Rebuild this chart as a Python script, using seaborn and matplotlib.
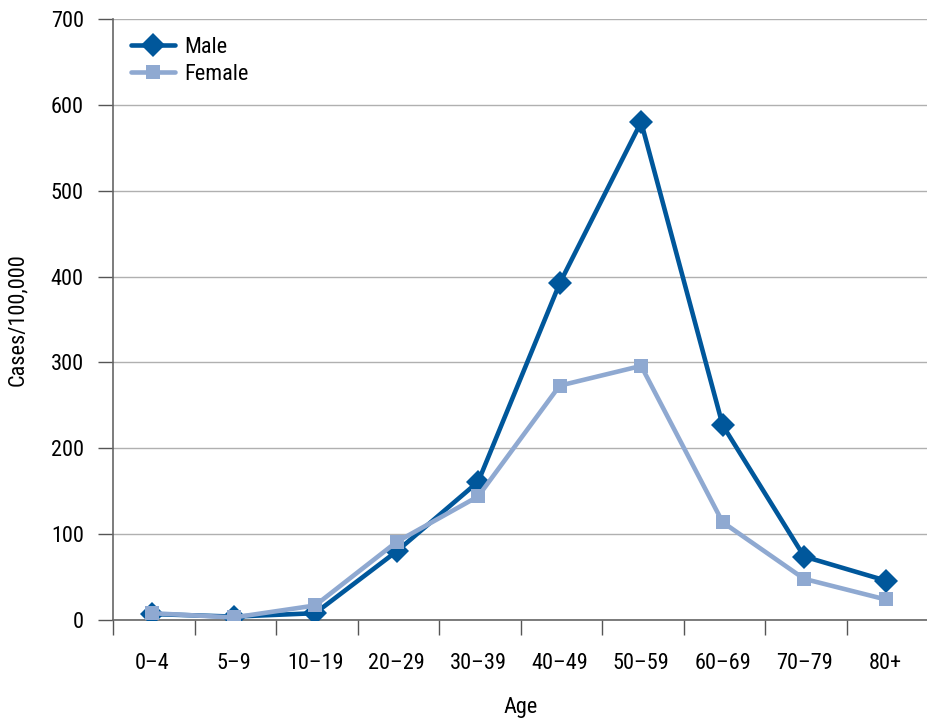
import matplotlib
matplotlib.use("Agg")
import matplotlib.pyplot as plt
from matplotlib import font_manager
import seaborn as sns
import pandas as pd
import numpy as np

age_groups = ["0\u20134", "5\u20139", "10\u201319", "20\u201329", "30\u201339",
              "40\u201349", "50\u201359", "60\u201369", "70\u201379", "80+"]
male = [7, 4, 8, 80, 161, 392, 580, 227, 74, 46]
female = [8, 3, 17, 91, 144, 273, 296, 114, 48, 24]

sns.set_style("white")
installed = {f.name for f in font_manager.fontManager.ttflist}
narrow = [n for n in ["Roboto Condensed", "Liberation Sans Narrow", "Liberation Sans"]
          if n in installed]
plt.rcParams["font.family"] = narrow[:1] + ["DejaVu Sans"]
plt.rcParams["text.color"] = "black"
plt.rcParams["axes.labelcolor"] = "black"
plt.rcParams["xtick.color"] = "black"
plt.rcParams["ytick.color"] = "black"

df_m = pd.DataFrame({"pos": range(len(age_groups)), "rate": male})
df_f = pd.DataFrame({"pos": range(len(age_groups)), "rate": female})

fig = plt.figure(figsize=(9.28, 7.21), dpi=100)
ax = fig.add_axes([0.1218, 0.140, 0.8782, 0.8336])

sns.lineplot(data=df_m, x="pos", y="rate", ax=ax, color="#00579b", lw=3.3,
             marker="D", markersize=12, markeredgewidth=0, label="Male", zorder=3)
sns.lineplot(data=df_f, x="pos", y="rate", ax=ax, color="#8fa9d1", lw=3.3,
             marker="s", markersize=10.5, markeredgewidth=0, label="Female", zorder=4)

ax.set_xlim(-0.48, 9.5)
ax.set_ylim(0, 700)
ax.set_yticks(range(0, 701, 100))
ax.yaxis.grid(True, color="#b0b0b0", lw=1)
ax.set_axisbelow(True)
ax.set_xticks(range(len(age_groups)))
ax.set_xticklabels(age_groups)
ax.set_xticks(np.arange(-0.48, 9.6, 1.0), minor=True)
ax.tick_params(axis="x", which="major", bottom=True, length=0, pad=24, labelsize=16)
ax.tick_params(axis="x", which="minor", bottom=True, length=11, width=1,
               color="#555555", direction="out")
ax.tick_params(axis="y", left=True, length=11, width=1, color="#555555",
               direction="out", pad=10, labelsize=16)

for s in ["top", "right"]:
    ax.spines[s].set_visible(False)
for s in ["left", "bottom"]:
    ax.spines[s].set_color("#666666")
    ax.spines[s].set_linewidth(1.2)

ax.set_xlabel("Age", fontsize=16, labelpad=16)
ax.set_ylabel("Cases/100,000", fontsize=16, labelpad=16)

ax.legend(loc="upper left", bbox_to_anchor=(0.0, 1.0), frameon=False, fontsize=16,
          handlelength=2.0, handletextpad=0.4, labelspacing=0.28, borderaxespad=0.4)

fig.savefig("out.png", dpi=100)
